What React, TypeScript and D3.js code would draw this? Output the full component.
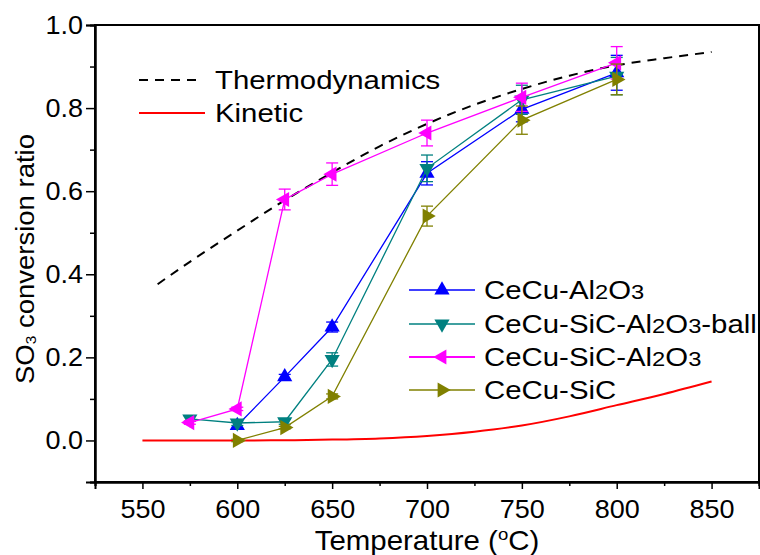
import { useEffect, useRef } from "react"
import * as d3 from "d3"

// x tick values / ranges
const xMajor = [550, 600, 650, 700, 750, 800, 850]
const xMinor = [525, 575, 625, 675, 725, 775, 825, 875]
const yMajor = [0.0, 0.2, 0.4, 0.6, 0.8, 1.0]
const yMinor = [-0.1, 0.1, 0.3, 0.5, 0.7, 0.9]

// model curves
const thermoT = [558, 575, 600, 625, 650, 675, 700, 725, 750, 775, 800, 825, 850]
const thermoV = [0.376, 0.43, 0.505, 0.578, 0.645, 0.708, 0.762, 0.808, 0.846, 0.878, 0.903, 0.92, 0.935]
const kineticT = [550, 575, 600, 625, 650, 675, 700, 725, 750, 775, 800, 825, 850]
const kineticV = [0, 0, 0, 0.0005, 0.002, 0.005, 0.011, 0.021, 0.036, 0.058, 0.085, 0.112, 0.142]

// measured series
const alT = [600, 625, 650, 700, 750, 800]
const alV = [0.036, 0.153, 0.273, 0.643, 0.797, 0.885]
const alE = [0.008, 0.006, 0.012, 0.028, 0.03, 0.042]

const ballT = [575, 600, 625, 650, 700, 750, 800]
const ballV = [0.052, 0.042, 0.045, 0.195, 0.655, 0.82, 0.877]
const ballE = [0.006, 0.006, 0.006, 0.016, 0.032, 0.035, 0.045]

const sicAlT = [575, 600, 625, 650, 700, 750, 800]
const sicAlV = [0.043, 0.076, 0.58, 0.641, 0.74, 0.826, 0.909]
const sicAlE = [0.004, 0.004, 0.025, 0.027, 0.031, 0.034, 0.039]

const sicT = [600, 625, 650, 700, 750, 800]
const sicV = [0.0, 0.031, 0.106, 0.54, 0.771, 0.869]
const sicE = [0.003, 0.003, 0.006, 0.024, 0.034, 0.037]

interface Series {
  name: [string, string, string, string] // text pieces: main, sub, main, sub
  t: number[]
  v: number[]
  e: number[]
  color: string
  rot: number
}

const series: Series[] = [
  { name: ["CeCu-Al", "2", "O", "3"], t: alT, v: alV, e: alE, color: "#0000ff", rot: 0 },
  { name: ["CeCu-SiC-Al", "2", "O", "3"], t: ballT, v: ballV, e: ballE, color: "#008080", rot: 180 },
  { name: ["CeCu-SiC-Al", "2", "O", "3"], t: sicAlT, v: sicAlV, e: sicAlE, color: "#ff00ff", rot: -90 },
  { name: ["CeCu-SiC", "", "", ""], t: sicT, v: sicV, e: sicE, color: "#808000", rot: 90 },
]
const legendTail = ["", "-ball", "", ""]

const App = () => {
  const svgRef = useRef<SVGSVGElement | null>(null)

  useEffect(() => {
    if (!svgRef.current) return
    const svg = d3.select(svgRef.current)
    svg.selectAll("*").remove()

    const font = "'Liberation Sans', Arial, sans-serif"
    const x = d3.scaleLinear().domain([525, 875]).range([95, 759])
    const y = d3.scaleLinear().domain([-0.1, 1.0]).range([482, 25])

    // frame
    svg.append("rect")
      .attr("x", 95).attr("y", 25).attr("width", 664).attr("height", 457)
      .attr("fill", "none").attr("stroke", "#000").attr("stroke-width", 2)

    // axes (the original text is a bit wider than Liberation Sans, so stretch it)
    const styleAxis = (g: d3.Selection<SVGGElement, unknown, null, undefined>) => {
      g.select(".domain").attr("stroke-width", 2)
      g.selectAll("line").attr("stroke-width", 1.5)
      g.selectAll("text").attr("font-family", font).attr("font-size", 25).attr("fill", "#000")
        .attr("transform", "scale(1.08,1)")
    }
    const xAx = svg.append("g").attr("transform", "translate(0,482)")
      .call(d3.axisBottom(x).tickValues(xMajor).tickSize(7).tickPadding(11).tickFormat(d3.format("d")))
    styleAxis(xAx)
    const xMin = svg.append("g").attr("transform", "translate(0,482)")
      .call(d3.axisBottom(x).tickValues(xMinor).tickSize(4).tickFormat(() => ""))
    styleAxis(xMin)
    const yAx = svg.append("g").attr("transform", "translate(95,0)")
      .call(d3.axisLeft(y).tickValues(yMajor).tickSize(9).tickPadding(2).tickFormat(d3.format(".1f")))
    styleAxis(yAx)
    const yMin = svg.append("g").attr("transform", "translate(95,0)")
      .call(d3.axisLeft(y).tickValues(yMinor).tickSize(5).tickFormat(() => ""))
    styleAxis(yMin)

    // model curves
    const curveLine = d3.line<number>()
      .x((d) => x(d))
      .curve(d3.curveMonotoneX)
    svg.append("path")
      .attr("d", curveLine.y((d, i) => y(thermoV[i]))(thermoT))
      .attr("fill", "none").attr("stroke", "#000").attr("stroke-width", 2)
      .attr("stroke-dasharray", "9,7")
    svg.append("path")
      .attr("d", curveLine.y((d, i) => y(kineticV[i]))(kineticT))
      .attr("fill", "none").attr("stroke", "#ff0000").attr("stroke-width", 2)

    const tri = d3.symbol(d3.symbolTriangle, 100)

    // measured series
    series.forEach((s) => {
      const pts = s.t.map((t, i) => ({ t, v: s.v[i], e: s.e[i] }))
      const line = d3.line<{ t: number; v: number }>().x((d) => x(d.t)).y((d) => y(d.v))
      const g = svg.append("g")
      g.append("path").attr("d", line(pts)).attr("fill", "none")
        .attr("stroke", s.color).attr("stroke-width", 1.3)
      const eb = g.selectAll("g.eb").data(pts).join("g").attr("class", "eb")
        .attr("stroke", s.color).attr("stroke-width", 1.3)
      eb.append("line")
        .attr("x1", (d) => x(d.t)).attr("x2", (d) => x(d.t))
        .attr("y1", (d) => y(d.v - d.e)).attr("y2", (d) => y(d.v + d.e))
      eb.append("line")
        .attr("x1", (d) => x(d.t) - 6).attr("x2", (d) => x(d.t) + 6)
        .attr("y1", (d) => y(d.v - d.e)).attr("y2", (d) => y(d.v - d.e))
      eb.append("line")
        .attr("x1", (d) => x(d.t) - 6).attr("x2", (d) => x(d.t) + 6)
        .attr("y1", (d) => y(d.v + d.e)).attr("y2", (d) => y(d.v + d.e))
      g.selectAll("path.m").data(pts).join("path").attr("class", "m")
        .attr("d", tri())
        .attr("transform", (d) => `translate(${x(d.t)},${y(d.v)}) rotate(${s.rot})`)
        .attr("fill", s.color)
    })

    // legend (models)
    const lg = svg.append("g").attr("font-family", font).attr("font-size", 26)
    const legText = (tx: number, ty: number) =>
      lg.append("text").attr("transform", `translate(${tx},${ty}) scale(1.13,1)`).attr("dy", "0.35em")
    lg.append("line").attr("x1", 139).attr("x2", 203).attr("y1", 80).attr("y2", 80)
      .attr("stroke", "#000").attr("stroke-width", 2).attr("stroke-dasharray", "9,7")
    legText(215, 80).text("Thermodynamics")
    lg.append("line").attr("x1", 139).attr("x2", 205).attr("y1", 113).attr("y2", 113)
      .attr("stroke", "#ff0000").attr("stroke-width", 2)
    legText(215, 113).text("Kinetic")

    // legend (series)
    const rowY = [290, 324, 357, 390]
    series.forEach((s, i) => {
      const ry = rowY[i]
      lg.append("line").attr("x1", 409).attr("x2", 475).attr("y1", ry).attr("y2", ry)
        .attr("stroke", s.color).attr("stroke-width", i === 2 ? 2.2 : 1.3)
      lg.append("path").attr("d", tri())
        .attr("transform", `translate(442,${ry}) rotate(${s.rot})`).attr("fill", s.color)
      const txt = legText(484, ry)
      txt.append("tspan").text(s.name[0])
      if (s.name[1]) txt.append("tspan").attr("font-size", 21).text(s.name[1])
      if (s.name[2]) txt.append("tspan").text(s.name[2])
      if (s.name[3]) txt.append("tspan").attr("font-size", 21).text(s.name[3])
      if (legendTail[i]) txt.append("tspan").text(legendTail[i])
    })

    // axis titles
    const yt = svg.append("text")
      .attr("transform", "translate(25,259) rotate(-90) scale(1.1,1)")
      .attr("text-anchor", "middle").attr("dy", "0.35em")
      .attr("font-family", font).attr("font-size", 25)
    yt.append("tspan").text("SO")
    yt.append("tspan").attr("font-size", 14).attr("dy", 2).text("3")
    yt.append("tspan").attr("dy", -2).text(" conversion ratio")

    const xt = svg.append("text")
      .attr("transform", "translate(427,550) scale(1.09,1)").attr("text-anchor", "middle")
      .attr("font-family", font).attr("font-size", 27)
    xt.append("tspan").text("Temperature (")
    xt.append("tspan").attr("font-size", 17).attr("dy", -10).text("o")
    xt.append("tspan").attr("dy", 10).text("C)")
  }, [])

  return (
    <div style={{ position: "absolute", left: 0, top: 0 }}>
      <svg ref={svgRef} width={760} height={555} style={{ display: "block", background: "#fff" }} />
    </div>
  )
}

export default App
